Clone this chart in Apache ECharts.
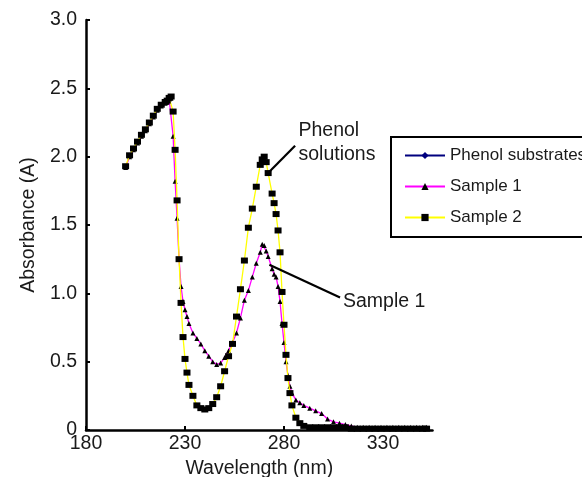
<!DOCTYPE html>
<html>
<head>
<meta charset="utf-8">
<script src="https://cdn.jsdelivr.net/npm/echarts@6/dist/echarts.min.js"></script>
<style>html,body{margin:0;padding:0;background:#fff;}#c{width:582px;height:477px;}</style>
</head>
<body>
<div id="c"></div>
<script>
const wavelengths = [200,202,204,206,208,210,212,214,216,218,220,
  221,222,223,224,225,226,227,228,229,230,231,232,
  234,236,238,240,242,244,246,248,250,252,254,256,258,260,262,264,266,268,
  269,270,271,272,
  274,275,276,277,278,279,280,281,282,283,284,
  286,288,290,
  293,296,299,302,305,308,311,314,317,320,323,326,329,332,335,338,341,344,347,350,352];

const phenolSubstrates = [];

const sample1 = [1.92,2.00,2.05,2.10,2.15,2.19,2.24,2.29,2.34,2.37,2.39,
  2.40,2.42,2.43,2.15,1.82,1.55,1.25,1.05,0.94,0.88,0.83,0.78,
  0.71,0.67,0.63,0.58,0.54,0.50,0.48,0.49,0.53,0.58,0.64,0.71,0.82,0.95,1.02,1.12,1.22,1.30,
  1.36,1.35,1.31,1.27,
  1.18,1.14,1.12,1.05,0.94,0.78,0.64,0.50,0.40,0.32,0.27,
  0.22,0.20,0.18,
  0.16,0.14,0.12,0.08,0.06,0.05,0.04,0.03,0.02,0.02,0.02,0.02,0.02,0.02,0.02,0.02,0.02,0.02,0.02,0.02,0.02];

const sample2 = [1.93,2.01,2.06,2.11,2.16,2.20,2.25,2.30,2.35,2.38,2.40,
  2.41,2.43,2.44,2.33,2.05,1.68,1.25,0.93,0.68,0.52,0.42,0.33,
  0.25,0.18,0.16,0.15,0.16,0.19,0.24,0.32,0.43,0.54,0.63,0.83,1.03,1.24,1.48,1.62,1.78,1.94,
  1.98,2.00,1.96,1.88,
  1.73,1.66,1.58,1.46,1.30,1.01,0.77,0.55,0.38,0.27,0.18,
  0.09,0.05,0.03,
  0.02,0.02,0.02,0.02,0.02,0.02,0.02,0.01,0.01,0.01,0.01,0.01,0.01,0.01,0.01,0.01,0.01,0.01,0.01,0.01,0.01];

const seriesNames = ['Phenol substrates','Sample 1','Sample 2'];
const xTicks = [180,230,280,330];
const yTicks = [0,0.5,1.0,1.5,2.0,2.5,3.0];

// annotations (data coordinates)
const annotations = [
  {text:'Phenol\nsolutions', from:[272.6,1.89], to:[285.6,2.08], label:[287.3,2.10]},
  {text:'Sample 1', from:[272.6,1.21], to:[308.3,0.97], label:[309.8,0.94]}
];

const pairs = arr => wavelengths.map((w,i)=>[w, arr[i]]);
const FONT = 'Liberation Sans, Arial, sans-serif';
const TXT = '#1a1a1a';

const chart = echarts.init(document.getElementById('c'), null, {renderer:'canvas'});
chart.setOption({
  animation:false,
  backgroundColor:'#fff',
  grid:{left:86, top:20, right:149.5, bottom:47, containLabel:false, outerBoundsMode:'none'},
  xAxis:{
    type:'value', min:180, max:355, interval:50,
    name:'Wavelength (nm)', nameLocation:'middle', nameGap:26,
    nameTextStyle:{fontFamily:FONT, fontSize:19.5, color:TXT},
    axisLine:{show:true, onZero:false, lineStyle:{color:'#000', width:2.5}},
    axisTick:{show:true, inside:true, length:4, lineStyle:{color:'#000', width:2}},
    axisLabel:{fontFamily:FONT, fontSize:19.5, color:TXT, margin:4, showMaxLabel:false,
      formatter:v => xTicks.indexOf(v)>=0 ? String(v) : ''},
    splitLine:{show:false}
  },
  yAxis:{
    type:'value', min:0, max:3, interval:0.5,
    name:'Absorbance (A)', nameLocation:'middle', nameGap:47,
    nameTextStyle:{fontFamily:FONT, fontSize:19.5, color:TXT},
    axisLine:{show:true, lineStyle:{color:'#000', width:2.5}},
    axisTick:{show:true, inside:true, length:4, lineStyle:{color:'#000', width:2}},
    axisLabel:{fontFamily:FONT, fontSize:19.5, color:TXT, margin:9,
      formatter:v => v===0 ? '0' : v.toFixed(1)},
    splitLine:{show:false}
  },
  legend:{
    orient:'vertical', left:391, top:137,
    data:seriesNames,
    borderColor:'#000', borderWidth:2, padding:[10,40,11,13],
    itemWidth:40, itemHeight:9, itemGap:14,
    textStyle:{fontFamily:FONT, fontSize:17, color:TXT}
  },
  series:[
    {name:seriesNames[0], type:'line', data:pairs(phenolSubstrates),
      symbol:'diamond', symbolSize:10,
      lineStyle:{color:'#00007f', width:2}, itemStyle:{color:'#00007f'}},
    {name:seriesNames[1], type:'line', data:pairs(sample1),
      symbol:'triangle', symbolSize:5, showAllSymbol:true,
      lineStyle:{color:'#ff00ff', width:1.3}, itemStyle:{color:'#000'}, z:3},
    {name:seriesNames[2], type:'line', data:pairs(sample2),
      symbol:'rect', symbolSize:[7,6], showAllSymbol:true,
      lineStyle:{color:'#ffff00', width:1.3}, itemStyle:{color:'#000'}, z:4}
  ]
});

const g = [];
annotations.forEach(a=>{
  const p1 = chart.convertToPixel({gridIndex:0}, a.from);
  const p2 = chart.convertToPixel({gridIndex:0}, a.to);
  const pl = chart.convertToPixel({gridIndex:0}, a.label);
  g.push({type:'line', shape:{x1:p1[0],y1:p1[1],x2:p2[0],y2:p2[1]}, style:{stroke:'#000', lineWidth:2.2}, z:10});
  g.push({type:'text', x:pl[0], y:pl[1], style:{text:a.text, font:'19.5px '+FONT, fill:TXT, verticalAlign:'middle', lineHeight:24}, z:10});
});
chart.setOption({graphic:g});
</script>
</body>
</html>
